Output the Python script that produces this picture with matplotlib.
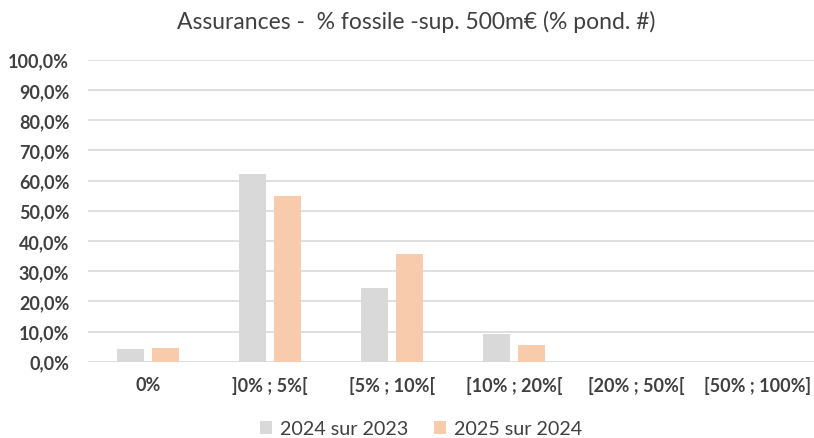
import matplotlib
matplotlib.use("Agg")
import matplotlib.pyplot as plt
from matplotlib.patches import Patch
import numpy as np

plt.rcParams['font.family'] = ['Lato', 'DejaVu Sans']

categories = ["0%", "]0% ; 5%[", "[5% ; 10%[", "[10% ; 20%[", "[20% ; 50%[", "[50% ; 100%]"]
series_names = ["2024 sur 2023", "2025 sur 2024"]
values_2024 = [4.2, 62.2, 24.4, 9.3, 0.0, 0.0]
values_2025 = [4.5, 54.8, 35.6, 5.5, 0.0, 0.0]
yticks = list(range(0, 101, 10))

grey = "#D9D9D9"
peach = "#F8CBAD"
text_col = "#404040"

W, H = 814, 439
fig = plt.figure(figsize=(W / 100, H / 100), dpi=100)
ax = fig.add_axes([88 / W, 1 - 362.7 / H, (W - 88) / W, (362.7 - 60.7) / H])

x = np.arange(len(categories))
bw = 0.225
off = 0.145
ax.bar(x - off, values_2024, bw, color=grey, zorder=3)
ax.bar(x + off, values_2025, bw, color=peach, zorder=3)

ax.set_ylim(0, 100)
ax.set_xlim(-0.492, 5.459)
ax.set_yticks(yticks)
ax.set_yticklabels([f"{v},0%" for v in yticks], fontweight="bold", fontsize=13, color=text_col)
ax.set_xticks(x)
ax.set_xticklabels(categories, fontweight="bold", fontsize=13, color=text_col)
ax.tick_params(axis="both", length=0)
ax.tick_params(axis="y", pad=13.5)
ax.tick_params(axis="x", pad=10)
ax.grid(axis="y", color=grey, linewidth=1.2, zorder=0)
for s in ax.spines.values():
    s.set_visible(False)

fig.text(416 / W, 1 - 22 / H, "Assurances -  % fossile -sup. 500m€ (% pond. #)",
         ha="center", va="center", fontsize=16.5, color=text_col)

handles = [Patch(facecolor=grey, edgecolor="none"), Patch(facecolor=peach, edgecolor="none")]
fig.legend(handles, series_names, loc="center", bbox_to_anchor=(421 / W, 1 - 430 / H),
           ncol=2, frameon=False, fontsize=14.2, handlelength=0.6, handleheight=0.6,
           handletextpad=0.4, columnspacing=1.3, labelcolor=text_col)

fig.savefig("out.png", dpi=100)
